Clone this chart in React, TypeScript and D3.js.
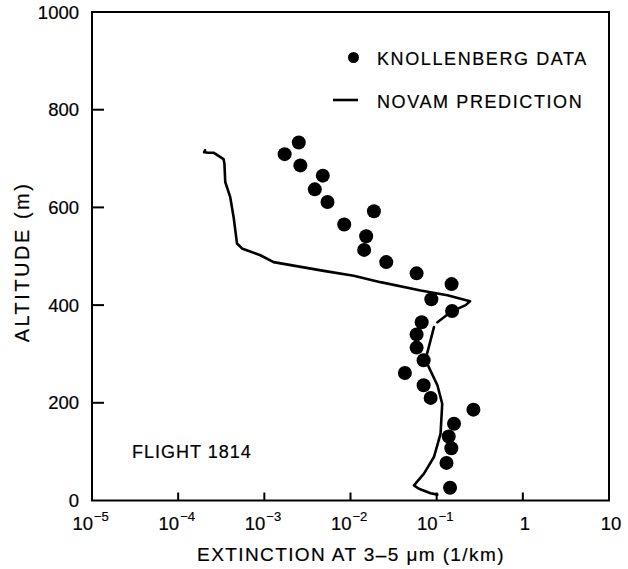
import React from "react";
import * as d3 from "d3";

const knollenbergExt = [
  0.00172, 0.00251, 0.00262, 0.00477, 0.00385, 0.00541, 0.0187, 0.00845, 0.0152, 0.0144,
  0.026, 0.0585, 0.149, 0.0867, 0.151, 0.067, 0.0585, 0.0585, 0.0706, 0.0428,
  0.0706, 0.0851, 0.267, 0.159, 0.138, 0.148, 0.13, 0.143,
];
const knollenbergAlt = [
  709, 733, 686, 665, 637, 611, 592, 565, 541, 513,
  488, 465, 443, 412, 388, 365, 340, 313, 287, 261,
  236, 210, 186, 157, 131, 107, 77, 26,
];

// NOVAM prediction, upper segment
const novamUpperExt = [
  2.05e-4, 2.0e-4, 2.25e-4, 2.57e-4, 3.36e-4, 3.44e-4, 3.52e-4, 4.02e-4, 4.4e-4, 4.82e-4,
  5.5e-4, 9.0e-4, 1.28e-3, 4.9e-3, 0.0109, 0.0223, 0.0652, 0.133, 0.244, 0.217, 0.146, 0.102,
];
const novamUpperAlt = [
  717, 713, 712, 712, 699, 690, 652, 621, 580, 526,
  516, 502, 488, 470, 460, 447, 430, 420, 408, 400, 386, 365,
];
// NOVAM prediction, lower segment
const novamLowerExt = [
  0.093, 0.081, 0.0745, 0.081, 0.102, 0.116, 0.111, 0.093, 0.0712, 0.0545, 0.0622, 0.0851, 0.102,
];
const novamLowerAlt = [355, 314, 290, 273, 236, 198, 137, 89, 55, 31, 24, 15, 12];

const xTicks = [1e-5, 1e-4, 1e-3, 1e-2, 1e-1, 1, 10];
const xTickExp = ["−5", "−4", "−3", "−2", "−1", "", ""];
const xTickPlain = ["", "", "", "", "", "1", "10"];
const yTicks = [0, 200, 400, 600, 800, 1000];

const W = 628;
const H = 569;
const FONT = "'Liberation Sans', Arial, Helvetica, sans-serif";
const TXT = { fill: "#000", stroke: "#000", strokeWidth: 0.2 };

export default function App() {
  const x = d3.scaleLog().domain([1e-5, 10]).range([92, 609]);
  const y = d3.scaleLinear().domain([0, 1000]).range([500.5, 12]);

  const line = d3
    .line<[number, number]>()
    .x((d) => x(d[0]))
    .y((d) => y(d[1]));

  const upper: [number, number][] = novamUpperExt.map((v, i) => [v, novamUpperAlt[i]]);
  const lower: [number, number][] = novamLowerExt.map((v, i) => [v, novamLowerAlt[i]]);

  const [x0, x1] = x.range();
  const [y0, y1] = y.range();

  return (
    <svg
      width={W}
      height={H}
      style={{ position: "absolute", left: 0, top: 0, background: "#fff" }}
      fontFamily={FONT}
    >
      <rect x={0} y={0} width={W} height={H} fill="#fff" />
      {/* frame */}
      <rect
        x={x0}
        y={y1}
        width={x1 - x0}
        height={y0 - y1}
        fill="none"
        stroke="#000"
        strokeWidth={2}
      />
      {/* y ticks */}
      {yTicks.map((t) => (
        <g key={"y" + t}>
          {t > 0 && t < 1000 && (
            <line x1={x0} x2={x0 + 12} y1={y(t)} y2={y(t)} stroke="#000" strokeWidth={2} />
          )}
          <text x={79} y={y(t) + 6.5} textAnchor="end" fontSize={18.5} {...TXT}>
            {t}
          </text>
        </g>
      ))}
      {/* x ticks */}
      {xTicks.map((t, i) => (
        <g key={"x" + i}>
          {i > 0 && i < xTicks.length - 1 && (
            <line x1={x(t)} x2={x(t)} y1={y0} y2={y0 - 8} stroke="#000" strokeWidth={2} />
          )}
          {xTickExp[i] !== "" ? (
            <>
              <text x={x(t) + 1} y={530} textAnchor="end" fontSize={18.5} {...TXT}>
                10
              </text>
              <text x={x(t) + 2} y={521} textAnchor="start" fontSize={13} {...TXT}>
                {xTickExp[i]}
              </text>
            </>
          ) : (
            <text x={x(t) + 2} y={530} textAnchor="middle" fontSize={18.5} {...TXT}>
              {xTickPlain[i]}
            </text>
          )}
        </g>
      ))}
      {/* axis titles */}
      <text x={351} y={561} textAnchor="middle" fontSize={19} letterSpacing={1.4} {...TXT}>
        EXTINCTION AT 3–5 μm (1/km)
      </text>
      <text
        transform={`translate(29, 262) rotate(-90)`}
        textAnchor="middle"
        fontSize={20}
        letterSpacing={2.5}
        {...TXT}
      >
        ALTITUDE (m)
      </text>
      {/* NOVAM line */}
      <path d={line(upper) || ""} fill="none" stroke="#000" strokeWidth={2.6} strokeLinejoin="round" strokeLinecap="round" />
      <path d={line(lower) || ""} fill="none" stroke="#000" strokeWidth={2.6} strokeLinejoin="round" strokeLinecap="round" />
      {/* Knollenberg data */}
      {knollenbergExt.map((v, i) => (
        <circle key={"k" + i} cx={x(v)} cy={y(knollenbergAlt[i])} r={7} fill="#000" />
      ))}
      {/* legend */}
      <circle cx={353.5} cy={57.5} r={5.5} fill="#000" />
      <text x={377} y={65} fontSize={18} letterSpacing={1.6} {...TXT}>
        KNOLLENBERG DATA
      </text>
      <line x1={333} x2={358} y1={100} y2={100} stroke="#000" strokeWidth={2.6} />
      <text x={377} y={108} fontSize={18} letterSpacing={1.6} {...TXT}>
        NOVAM PREDICTION
      </text>
      {/* annotation */}
      <text x={132} y={458} fontSize={18} letterSpacing={1} {...TXT}>
        FLIGHT 1814
      </text>
    </svg>
  );
}
